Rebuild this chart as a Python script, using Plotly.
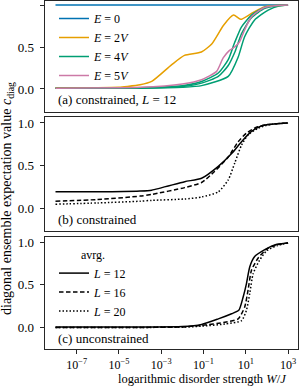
import numpy as np
import plotly.graph_objects as go

# ---------------- data (log10 of W/J, value) ----------------
# panel (a) constrained, L = 12
a_blue_logw = [-8, -4, 0, 3]
a_blue_val = [1.0, 1.0, 1.0, 1.0]

a_orange_logw = [-8, -6, -5, -4.6, -4.0, -3.45, -2.5, -1.9, -1.1, -0.6, -0.05, 0.42, 0.76, 1.27, 1.9, 2.5, 3]
a_orange_val = [0.015, 0.015, 0.02, 0.03, 0.05, 0.09, 0.29, 0.40, 0.44, 0.54, 0.76, 0.88, 0.83, 0.90, 0.98, 0.995, 1.0]

a_green1_logw = [-8, -4, -2, -1.09, -0.3, 0.17, 0.47, 0.8, 1.27, 1.88, 2.5, 3]
a_green1_val = [0.01, 0.015, 0.04, 0.09, 0.19, 0.35, 0.55, 0.74, 0.88, 0.97, 0.995, 1.0]
a_green2_logw = [-8, -4, -2, -1.09, -0.3, 0.17, 0.5, 0.8, 1.27, 1.9, 2.5, 3]
a_green2_val = [0.01, 0.012, 0.03, 0.07, 0.15, 0.28, 0.45, 0.66, 0.85, 0.96, 0.99, 1.0]
a_green3_logw = [-8, -4, -2, -1.09, 0.17, 0.64, 0.94, 1.41, 2.06, 2.6, 3]
a_green3_val = [0.008, 0.01, 0.02, 0.04, 0.15, 0.38, 0.62, 0.82, 0.94, 0.99, 1.0]

a_pink_logw = [-8, -4, -2, -1.09, -0.38, -0.07, 0.23, 0.47, 0.70, 0.94, 1.27, 1.88, 2.5, 3]
a_pink_val = [0.01, 0.02, 0.06, 0.11, 0.21, 0.37, 0.46, 0.50, 0.56, 0.70, 0.86, 0.97, 0.995, 1.0]

# panel (b) constrained, averaged
b_l12_logw = [-8, -6, -4, -3.45, -1.89, -1.09, -0.30, 0.33, 0.80, 1.27, 1.79, 2.4, 3]
b_l12_val = [0.19, 0.19, 0.20, 0.21, 0.31, 0.35, 0.49, 0.64, 0.78, 0.90, 0.97, 0.99, 1.0]
b_l16_logw = [-8, -6, -4, -3.45, -1.89, -1.09, -0.48, 0.17, 0.64, 1.03, 1.5, 2.0, 3]
b_l16_val = [0.08, 0.10, 0.14, 0.16, 0.24, 0.30, 0.43, 0.60, 0.78, 0.88, 0.95, 0.98, 1.0]
b_l20_logw = [-8, -6, -4, -3.45, -1.89, -1.09, -0.30, 0.17, 0.48, 0.80, 1.11, 1.6, 2.1, 3]
b_l20_val = [0.045, 0.06, 0.08, 0.09, 0.106, 0.13, 0.19, 0.33, 0.53, 0.74, 0.86, 0.94, 0.98, 1.0]

# panel (c) unconstrained, averaged
c_l12_logw = [-8, -4, -2, -1.09, -0.30, 0.33, 0.67, 0.88, 1.03, 1.19, 1.42, 1.90, 2.4, 3]
c_l12_val = [0.005, 0.005, 0.01, 0.035, 0.10, 0.16, 0.20, 0.36, 0.51, 0.71, 0.83, 0.91, 0.97, 0.99]
c_l16_logw = [-8, -4, -2, -1.09, 0.01, 0.64, 0.95, 1.11, 1.27, 1.58, 2.0, 2.5, 3]
c_l16_val = [0.0, 0.0, 0.005, 0.024, 0.06, 0.10, 0.24, 0.44, 0.67, 0.81, 0.92, 0.97, 0.99]
c_l20_logw = [-8, -4, -2, -1.09, 0.01, 0.80, 1.03, 1.19, 1.35, 1.66, 2.0, 2.5, 3]
c_l20_val = [0.0, 0.0, 0.003, 0.015, 0.04, 0.08, 0.20, 0.40, 0.63, 0.79, 0.90, 0.96, 0.99]

x_tickvals = [1e-7, 1e-5, 1e-3, 1e-1, 1e1, 1e3]
x_ticktext = ["10<sup>−7</sup>", "10<sup>−5</sup>", "10<sup>−3</sup>", "10<sup>−1</sup>", "10<sup>1</sup>", "10<sup>3</sup>"]
y_tickvals = [0, 0.5, 1.0]
y_ticktext = ["0.0", "0.5", "1.0"]

# ---------------- style ----------------
FONT = "Liberation Serif"
FS = 13
W, H = 304, 388
BLUE, ORANGE, GREEN, PINK = "#0072B2", "#E69F00", "#009E73", "#CC79A7"
FRAME = "#262626"


def px_x(p):
    return p / W


def px_y(p):
    return 1 - p / H


fig = go.Figure()


def add(logw, val, color, name, ax, legend=None, show=False, dash="solid"):
    fig.add_trace(go.Scatter(
        x=10 ** np.array(logw, dtype=float), y=val, mode="lines",
        line=dict(color=color, width=1.5, shape="spline", smoothing=0.6, dash=dash),
        name=name, showlegend=show, legend=legend,
        xaxis="x" + ("" if ax == 1 else str(ax)), yaxis="y" + ("" if ax == 1 else str(ax)),
    ))


# panel a
add(a_blue_logw, a_blue_val, BLUE, "<i>E</i> = 0", 1, "legend", True)
add(a_green3_logw, a_green3_val, GREEN, "g3", 1)
add(a_green2_logw, a_green2_val, GREEN, "g2", 1)
add(a_orange_logw, a_orange_val, ORANGE, "<i>E</i> = 2<i>V</i>", 1, "legend", True)
add(a_green1_logw, a_green1_val, GREEN, "<i>E</i> = 4<i>V</i>", 1, "legend", True)
add(a_pink_logw, a_pink_val, PINK, "<i>E</i> = 5<i>V</i>", 1, "legend", True)

# panel b
add(b_l12_logw, b_l12_val, "black", "<i>L</i> = 12", 2)
add(b_l16_logw, b_l16_val, "black", "<i>L</i> = 16", 2, dash="4.5px,2.5px")
add(b_l20_logw, b_l20_val, "black", "<i>L</i> = 20", 2, dash="1.5px,2px")

# panel c
add(c_l12_logw, c_l12_val, "black", "<i>L</i> = 12", 3, "legend2", True)
add(c_l16_logw, c_l16_val, "black", "<i>L</i> = 16", 3, "legend2", True, dash="4.5px,2.5px")
add(c_l20_logw, c_l20_val, "black", "<i>L</i> = 20", 3, "legend2", True, dash="1.5px,2px")

xdom = [px_x(44.5), px_x(298)]
ydoms = {1: [px_y(112), px_y(1)], 2: [px_y(231), px_y(117)], 3: [px_y(348.5), px_y(237)]}
yranges = {1: [-0.274, 1.048], 2: [-0.27, 1.07], 3: [-0.247, 1.059]}

common_x = dict(type="log", range=[-8.52, 3.47], domain=xdom, showline=True, mirror=True,
                linecolor=FRAME, linewidth=1, showgrid=False, zeroline=False, automargin=False)
common_y = dict(showline=True, mirror=True, linecolor=FRAME, linewidth=1, showgrid=False,
                zeroline=False, ticks="outside", ticklen=4, tickwidth=1, tickcolor=FRAME,
                tickvals=y_tickvals, ticktext=y_ticktext, automargin=False,
                tickfont=dict(size=13), ticklabelstandoff=3)

layout = dict(
    template="none",
    width=W, height=H, margin=dict(l=0, r=0, t=0, b=0, pad=0), autosize=False,
    paper_bgcolor="white", plot_bgcolor="white",
    font=dict(family=FONT, size=FS, color="black"),
)
for i in (1, 2, 3):
    sx = "" if i == 1 else str(i)
    xa = dict(common_x, anchor="y" + sx)
    if i == 3:
        xa.update(ticks="outside", ticklen=4, tickwidth=1, tickcolor=FRAME,
                  tickvals=x_tickvals, ticktext=x_ticktext, showticklabels=True,
                  tickfont=dict(size=12), ticklabelstandoff=1)
    else:
        xa.update(ticks="", showticklabels=False)
    layout["xaxis" + sx] = xa
    layout["yaxis" + sx] = dict(common_y, domain=ydoms[i], range=yranges[i], anchor="x" + sx)

layout["legend"] = dict(x=px_x(54), y=px_y(4), xanchor="left", yanchor="top",
                        bgcolor="rgba(0,0,0,0)", font=dict(size=12), tracegroupgap=0,
                        itemwidth=30, traceorder="normal")
layout["legend2"] = dict(x=px_x(54), y=px_y(243), xanchor="left", yanchor="top",
                         bgcolor="rgba(0,0,0,0)", font=dict(size=12), itemwidth=30,
                         title=dict(text="avrg.", side="top center", font=dict(size=12)),
                         traceorder="normal")

layout["annotations"] = [
    dict(text="(a) constrained, <i>L</i> = 12", x=px_x(56), y=px_y(100), xref="paper", yref="paper",
         xanchor="left", yanchor="middle", showarrow=False),
    dict(text="(b) constrained", x=px_x(56), y=px_y(219), xref="paper", yref="paper",
         xanchor="left", yanchor="middle", showarrow=False),
    dict(text="(c) unconstrained", x=px_x(56), y=px_y(338), xref="paper", yref="paper",
         xanchor="left", yanchor="middle", showarrow=False),
    dict(text="logarithmic disorder strength <i>W</i>/<i>J</i>", x=px_x(202), y=px_y(378.5),
         xref="paper", yref="paper", xanchor="center", yanchor="middle", showarrow=False,
         font=dict(size=12.5)),
    dict(text="diagonal ensemble expectation value <i>c</i><sub>diag</sub>", x=px_x(8), y=px_y(199),
         xref="paper", yref="paper", xanchor="center", yanchor="middle", textangle=-90,
         showarrow=False, font=dict(size=14)),
]

fig.update_layout(**layout)
fig.write_html("out.html", config={"displayModeBar": False},
               post_script="document.body.style.margin='0';document.body.style.padding='0';")
